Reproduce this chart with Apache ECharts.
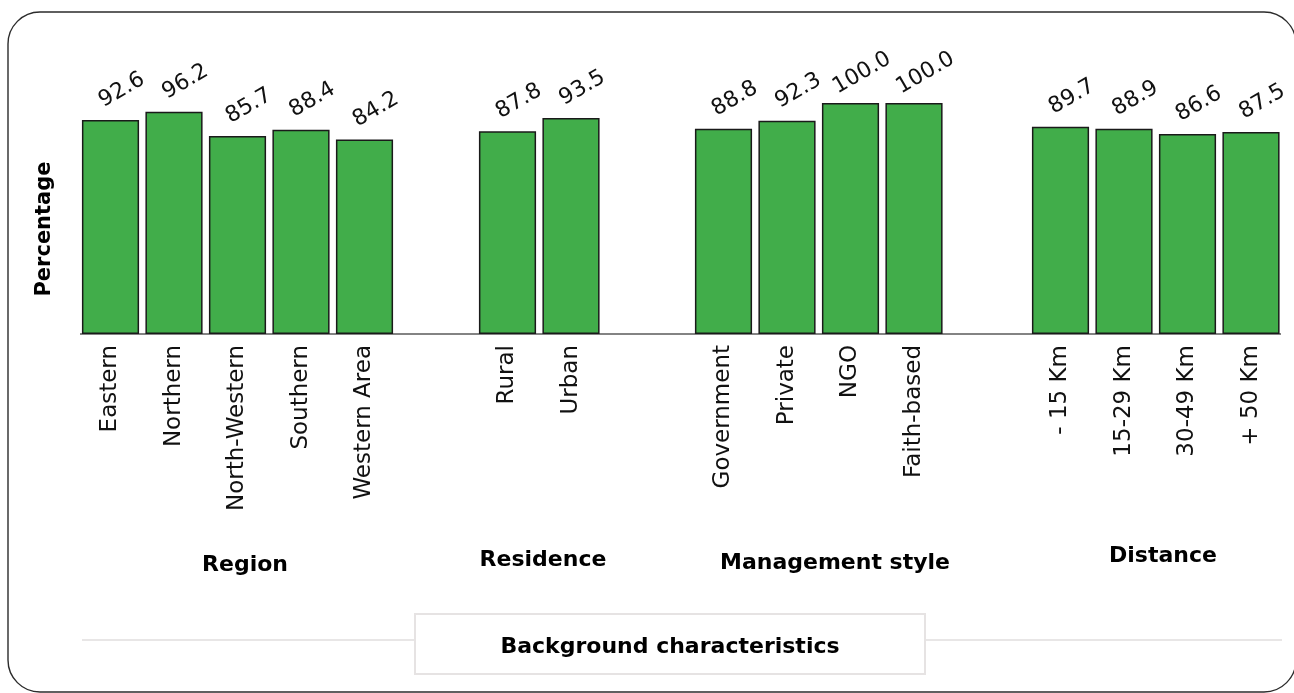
<!DOCTYPE html>
<html>
<head>
<meta charset="utf-8">
<title>Percentage by background characteristics</title>
<script src="https://cdn.jsdelivr.net/npm/echarts@6/dist/echarts.min.js"></script>
<style>
  html, body { margin: 0; padding: 0; background: #ffffff; }
  #chart { width: 1294px; height: 693px; }
</style>
</head>
<body>
<div id="chart"></div>
<script>
// Categories and values per group of background characteristics
const regionCats = ['Eastern', 'Northern', 'North-Western', 'Southern', 'Western Area'];
const regionVals = [92.6, 96.2, 85.7, 88.4, 84.2];

const residenceCats = ['Rural', 'Urban'];
const residenceVals = [87.8, 93.5];

const managementCats = ['Government', 'Private', 'NGO', 'Faith-based'];
const managementVals = [88.8, 92.3, 100.0, 100.0];

const distanceCats = ['- 15 Km', '15-29 Km', '30-49 Km', '+ 50 Km'];
const distanceVals = [89.7, 88.9, 86.6, 87.5];

const groupTitles = ['Region', 'Residence', 'Management style', 'Distance'];
const yAxisTitle = 'Percentage';
const xAxisTitle = 'Background characteristics';

const groups = [
  { cats: regionCats, vals: regionVals },
  { cats: residenceCats, vals: residenceVals },
  { cats: managementCats, vals: managementVals },
  { cats: distanceCats, vals: distanceVals }
];

// Panel layout: every category band is the same width across panels
const BAND = 63.5;
const PLOT_TOP = 103;
const PLOT_H = 231;
const panelLeft = [78.75, 475.75, 691.75, 1028.75];
const titlePos = [[245, 565], [543, 560], [835, 563], [1163, 556]];

const FONT = '"DejaVu Sans", "Noto Sans", sans-serif';
const BAR_GREEN = '#41ad4a';

const chart = echarts.init(document.getElementById('chart'), null, { renderer: 'canvas' });

const grid = [], xAxis = [], yAxis = [], series = [];
groups.forEach((g, i) => {
  grid.push({
    left: panelLeft[i],
    top: PLOT_TOP,
    width: BAND * g.cats.length,
    height: PLOT_H,
    containLabel: false
  });
  xAxis.push({
    type: 'category',
    gridIndex: i,
    data: g.cats,
    boundaryGap: true,
    axisLine: { show: false },
    axisTick: { show: false },
    axisLabel: {
      rotate: 90,
      margin: 11,
      color: '#111111',
      fontFamily: FONT,
      fontSize: 23,
      interval: 0
    },
    splitLine: { show: false }
  });
  yAxis.push({
    type: 'value',
    gridIndex: i,
    min: 0,
    max: 100,
    show: false,
    splitLine: { show: false }
  });
  series.push({
    type: 'bar',
    xAxisIndex: i,
    yAxisIndex: i,
    data: g.vals,
    barWidth: '90%',
    itemStyle: {
      color: BAR_GREEN,
      borderColor: '#1a1a1a',
      borderWidth: 1.5
    },
    label: {
      show: true,
      position: [40, -30],
      align: 'center',
      verticalAlign: 'middle',
      rotate: 30,
      color: '#111111',
      fontFamily: FONT,
      fontSize: 22,
      formatter: p => Number(p.value).toFixed(1)
    },
    emphasis: { disabled: true },
    animation: false
  });
});

const graphic = [
  // outer rounded frame
  {
    type: 'rect',
    shape: { x: 8, y: 12, width: 1288, height: 680, r: 32 },
    style: { fill: 'none', stroke: '#2b2b2b', lineWidth: 1.4 },
    z: 0, silent: true
  },
  // shared baseline beneath all panels
  {
    type: 'line',
    shape: { x1: 80, y1: 334, x2: 1281, y2: 334 },
    style: { stroke: '#5a5a5a', lineWidth: 1.6 },
    z: 1, silent: true
  },
  // y-axis title
  {
    type: 'text',
    x: 45, y: 229,
    rotation: Math.PI / 2,
    style: {
      text: yAxisTitle,
      fontFamily: FONT, fontWeight: 'bold', fontSize: 21,
      fill: '#000000', align: 'center', verticalAlign: 'middle'
    },
    z: 5, silent: true
  },
  // bottom rule with the x-axis title box
  {
    type: 'line',
    shape: { x1: 82, y1: 640, x2: 1282, y2: 640 },
    style: { stroke: '#e8e6e6', lineWidth: 2 },
    z: 1, silent: true
  },
  {
    type: 'rect',
    shape: { x: 415, y: 614, width: 510, height: 60 },
    style: { fill: '#ffffff', stroke: '#e6e3e3', lineWidth: 2 },
    z: 2, silent: true
  },
  {
    type: 'text',
    x: 670, y: 647,
    style: {
      text: xAxisTitle,
      fontFamily: FONT, fontWeight: 'bold', fontSize: 22,
      fill: '#000000', align: 'center', verticalAlign: 'middle'
    },
    z: 3, silent: true
  }
];

groupTitles.forEach((t, i) => {
  graphic.push({
    type: 'text',
    x: titlePos[i][0], y: titlePos[i][1],
    style: {
      text: t,
      fontFamily: FONT, fontWeight: 'bold', fontSize: 22,
      fill: '#000000', align: 'center', verticalAlign: 'middle'
    },
    z: 3, silent: true
  });
});

chart.setOption({
  backgroundColor: '#ffffff',
  animation: false,
  grid: grid,
  xAxis: xAxis,
  yAxis: yAxis,
  series: series,
  graphic: graphic
});
</script>
</body>
</html>
